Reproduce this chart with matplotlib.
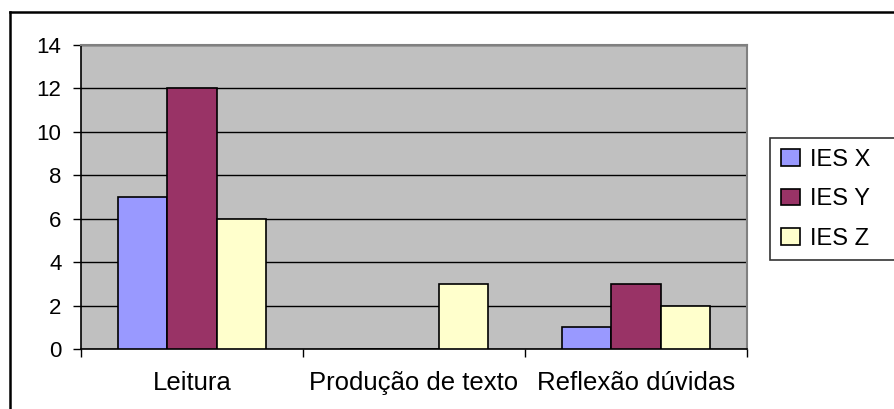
import matplotlib
matplotlib.use("Agg")
import matplotlib.pyplot as plt
import numpy as np
from matplotlib.lines import Line2D

categories = ["Leitura", "Produção de texto", "Reflexão dúvidas"]
series_names = ["IES X", "IES Y", "IES Z"]
ies_x = [7, 0, 1]
ies_y = [12, 0, 3]
ies_z = [6, 3, 2]
yticks = [0, 2, 4, 6, 8, 10, 12, 14]

colors = ["#9999FF", "#993366", "#FFFFCC"]

plt.rcParams['font.family'] = ['Liberation Sans', 'DejaVu Sans']

W, H = 895, 409
fig = plt.figure(figsize=(W / 100, H / 100), dpi=100)
ax = fig.add_axes([81 / W, 1 - 349 / H, (747 - 81) / W, (349 - 45) / H])
ax.set_facecolor("#C0C0C0")

x = np.arange(len(categories))
bw = 2 / 9
for i, (vals, name) in enumerate(zip([ies_x, ies_y, ies_z], series_names)):
    ax.bar(x + (i - 1) * bw, vals, width=bw, color=colors[i], edgecolor="black",
           linewidth=1.2, label=name, zorder=3)

ax.set_ylim(0, 14)
ax.set_xlim(-0.5, 2.5)
ax.set_yticks(yticks)
ax.yaxis.grid(True, color="black", linewidth=1.0, zorder=1)
ax.set_axisbelow(True)
ax.tick_params(axis="y", direction="out", length=6, width=1, labelsize=16, pad=8)

ax.set_xticks([-0.5, 0.5, 1.5, 2.5])
ax.set_xticklabels([])
ax.set_xticks(x, minor=True)
ax.set_xticklabels(categories, minor=True)
ax.tick_params(axis="x", which="major", direction="out", length=6, width=1)
ax.tick_params(axis="x", which="minor", length=0, labelsize=18.5, pad=16)

for s in ["left", "bottom"]:
    ax.spines[s].set_color("black")
    ax.spines[s].set_linewidth(1.2)
for s in ["top", "right"]:
    ax.spines[s].set_color("#808080")
    ax.spines[s].set_linewidth(1.5)

# figure border (cut off at right and bottom)
fig.add_artist(Line2D([10 / W, 10 / W], [0, 1 - 12 / H], transform=fig.transFigure,
                      color="black", linewidth=1.8))
fig.add_artist(Line2D([10 / W, 1.0], [1 - 12 / H, 1 - 12 / H], transform=fig.transFigure,
                      color="black", linewidth=1.8))

leg = fig.legend(loc="upper left",
                 bbox_to_anchor=(770 / W, 1 - 255 / H, 0.2, (255 - 138) / H),
                 mode="expand", fontsize=17, frameon=True, fancybox=False,
                 edgecolor="black", handlelength=0.8, handleheight=0.7,
                 handletextpad=0.45, labelspacing=0.74, borderpad=0.45,
                 borderaxespad=0)
leg.get_frame().set_linewidth(1.2)

fig.savefig("out.png", dpi=100)
